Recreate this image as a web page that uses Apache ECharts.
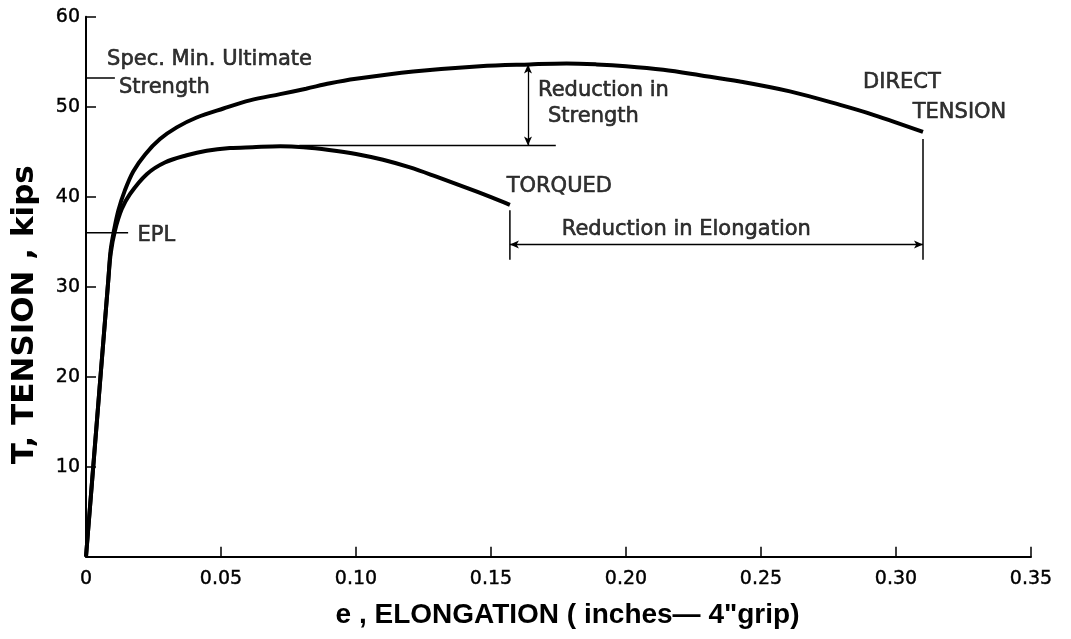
<!DOCTYPE html>
<html>
<head>
<meta charset="utf-8">
<script src="https://cdn.jsdelivr.net/npm/echarts@6/dist/echarts.min.js"></script>
<style>
html,body{margin:0;padding:0;background:#fff;}
#chart{width:1071px;height:639px;}
</style>
</head>
<body>
<div id="chart"></div>
<script>
// ---- Data (e = elongation in inches, T = tension in kips) ----
const directTension = [
  [0,0],[0.0083,30.9],[0.0091,34.0],[0.0104,36.3],[0.012,38.5],[0.0144,40.7],[0.0175,42.8],
  [0.0219,44.7],[0.0274,46.4],[0.0336,47.7],[0.041,48.8],[0.0509,49.8],[0.0607,50.7],
  [0.0719,51.4],[0.0815,52.0],[0.0904,52.6],[0.1,53.1],[0.1212,53.9],[0.1459,54.5],
  [0.1644,54.7],[0.178,54.8],[0.1891,54.7],[0.2,54.5],[0.2138,54.1],[0.2274,53.5],
  [0.2422,52.8],[0.2607,51.7],[0.2793,50.2],[0.2916,49.1],[0.31,47.2]
];
const torqued = [
  [0,0],[0.0083,30.9],[0.0092,33.8],[0.0107,36.2],[0.0132,38.6],[0.0163,40.3],[0.0225,42.5],
  [0.0292,43.8],[0.0373,44.6],[0.0447,45.1],[0.0533,45.4],[0.0617,45.5],[0.072,45.6],
  [0.0805,45.5],[0.09,45.2],[0.1,44.75],[0.11,44.1],[0.12,43.25],[0.13,42.2],[0.14,41.1],
  [0.15,39.95],[0.157,39.1]
];
const xTickLabels = ['0','0.05','0.10','0.15','0.20','0.25','0.30','0.35'];
const yTickLabels = ['','10','20','30','40','50','60'];

// annotation reference lines
const eplLevel = [[0,36],[0.0156,36]];
const specMinLevel = [[0,53.2],[0.0107,53.2]];
const strengthBase = [[0.079,45.7],[0.174,45.7]];
const strengthArrow = [[0.1637,45.7],[0.1637,54.7]];
const torquedDrop = [[0.157,38.5],[0.157,33.0]];
const directDrop = [[0.31,46.4],[0.31,33.0]];
const elongationArrow = [[0.157,34.7],[0.31,34.7]];

// annotation texts anchored at data coordinates (left edge, vertical middle)
const notes = [
  {value:[0.0078,55.2], text:'Spec. Min. Ultimate'},
  {value:[0.0122,52.1], text:'Strength'},
  {value:[0.0191,35.7], text:'EPL'},
  {value:[0.1674,51.85], text:'Reduction in'},
  {value:[0.1711,48.9], text:'Strength'},
  {value:[0.1558,41.1], text:'TORQUED'},
  {value:[0.1762,36.3], text:'Reduction in Elongation'},
  {value:[0.2878,52.7], text:'DIRECT'},
  {value:[0.3062,49.3], text:'TENSION'}
];

const FONT = 'DejaVu Sans';

function segSeries(data, width){
  return {type:'line', data:data, symbol:'none', silent:true, z:3,
    lineStyle:{color:'#000', width:width||1.5}, animation:false};
}
function arrowSeries(pair){
  return {type:'line', data:[], symbol:'none', silent:true, animation:false,
    markLine:{silent:true, symbol:['arrow','arrow'], symbolSize:[6,9],
      label:{show:false}, lineStyle:{color:'#000', width:1.3, type:'solid'},
      data:[[{coord:pair[0]},{coord:pair[1]}]]}};
}

const chart = echarts.init(document.getElementById('chart'), null, {renderer:'canvas'});
chart.setOption({
  backgroundColor:'#fff',
  animation:false,
  grid:{left:86, right:40, top:16.7, bottom:82.3},
  xAxis:{
    type:'value', min:0, max:0.35, interval:0.05,
    axisLine:{show:true, onZero:false, lineStyle:{color:'#000', width:2}},
    axisTick:{show:true, inside:true, length:10, lineStyle:{color:'#000', width:1.5}},
    splitLine:{show:false},
    axisLabel:{color:'#000', fontFamily:FONT, fontSize:19, margin:13,
      textBorderColor:'#000', textBorderWidth:0.4,
      formatter:v=>xTickLabels[Math.round(v/0.05)]},
    name:'e , ELONGATION ( inches\u2014 4"grip)',
    nameLocation:'middle', nameGap:45,
    nameTextStyle:{color:'#000', fontFamily:'Liberation Sans', fontSize:28, fontWeight:'bold', padding:[0,0,0,18]}
  },
  yAxis:{
    type:'value', min:0, max:60, interval:10,
    axisLine:{show:true, lineStyle:{color:'#000', width:2}},
    axisTick:{show:true, inside:true, length:10, lineStyle:{color:'#000', width:1.5}},
    splitLine:{show:false},
    axisLabel:{color:'#000', fontFamily:FONT, fontSize:19, margin:6,
      textBorderColor:'#000', textBorderWidth:0.4,
      formatter:v=>yTickLabels[Math.round(v/10)]},
    name:'T, TENSION , kips',
    nameLocation:'middle', nameGap:46, nameRotate:90,
    nameTextStyle:{color:'#000', fontFamily:FONT, fontSize:31, fontWeight:'bold', padding:[0,56,0,0]}
  },
  series:[
    {type:'line', name:'Direct Tension', data:directTension, symbol:'none',
      smooth:0.35, lineStyle:{color:'#000', width:4}, z:4},
    {type:'line', name:'Torqued', data:torqued, symbol:'none',
      smooth:0.35, lineStyle:{color:'#000', width:4}, z:4},
    segSeries(eplLevel),
    segSeries(specMinLevel),
    segSeries(strengthBase),
    segSeries(torquedDrop),
    segSeries(directDrop),
    arrowSeries(strengthArrow),
    arrowSeries(elongationArrow),
    {type:'scatter', data:notes, symbolSize:0, silent:true, z:5,
      label:{show:true, position:'right', distance:0, color:'#000',
        textBorderColor:'#000', textBorderWidth:0.6,
        fontFamily:FONT, fontSize:21, formatter:p=>p.data.text}}
  ]
});
</script>
</body>
</html>
